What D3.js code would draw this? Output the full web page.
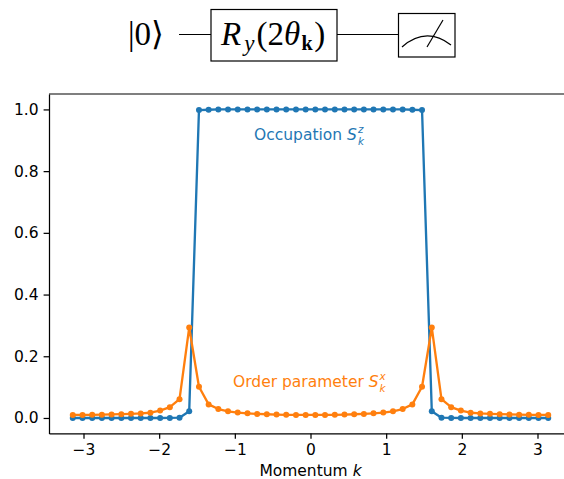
<!DOCTYPE html>
<html>
<head>
<meta charset="utf-8">
<script src="https://cdn.jsdelivr.net/npm/d3@7"></script>
<style>
  html, body { margin: 0; padding: 0; background: #fff; overflow: hidden; }
  svg { display: block; }
  text { font-family: "DejaVu Sans", sans-serif; }
  .math { font-family: "Liberation Serif", serif; fill: #000; }
</style>
</head>
<body>
<div id="chart"></div>
<script>
// momentum grid
const momentum = [
  -3.142, -3.013, -2.885, -2.757, -2.629, -2.500, -2.372, -2.244, -2.116, -1.987,
  -1.859, -1.731, -1.603, -1.474, -1.346, -1.218, -1.090, -0.962, -0.833, -0.705,
  -0.577, -0.449, -0.321, -0.192, -0.064, 0.064, 0.192, 0.321, 0.449, 0.577,
  0.705, 0.833, 0.962, 1.090, 1.218, 1.346, 1.474, 1.603, 1.731, 1.859,
  1.987, 2.116, 2.244, 2.372, 2.500, 2.629, 2.757, 2.885, 3.013, 3.142
];
const occupation = [
  0, 0, 0, 0, 0, 0, 0, 0, 0, 0,
  0.0003, 0.001, 0.022, 0.998, 0.999, 1, 1, 1, 1, 1,
  1, 1, 1, 1, 1, 1, 1, 1, 1, 1,
  1, 1, 1, 1, 1, 0.999, 0.998, 0.022, 0.001, 0.0003,
  0, 0, 0, 0, 0, 0, 0, 0, 0, 0
];
const orderParam = [
  0.0098, 0.0100, 0.0103, 0.0108, 0.0114, 0.0122, 0.0133, 0.0148, 0.0170, 0.0240,
  0.0350, 0.0610, 0.293, 0.101, 0.044, 0.029, 0.0215, 0.0175, 0.0150, 0.0132,
  0.0120, 0.0110, 0.0103, 0.0099, 0.0098, 0.0098, 0.0099, 0.0103, 0.0110, 0.0120,
  0.0132, 0.0150, 0.0175, 0.0215, 0.029, 0.044, 0.101, 0.293, 0.0610, 0.0350,
  0.0240, 0.0170, 0.0148, 0.0133, 0.0122, 0.0114, 0.0108, 0.0103, 0.0100, 0.0098
];
const xTicks = [-3, -2, -1, 0, 1, 2, 3];
const yTicks = [0, 0.2, 0.4, 0.6, 0.8, 1];

const blue = "#1f77b4", orange = "#ff7f0e";
const width = 564, height = 479;
const margin = { top: 94, right: -8, bottom: 45.6, left: 49 };
const fontSize = "15.5px", smallSize = "10.4px";

const svg = d3.select("#chart").append("svg")
  .attr("width", width)
  .attr("height", height);

const x = d3.scaleLinear().domain([-3.456, 3.456]).range([margin.left, width - margin.right]);
const y = d3.scaleLinear().domain([-0.05, 1.05]).range([height - margin.bottom, margin.top]);

const line = d3.line().x(d => x(d[0])).y(d => y(d[1]));

function addSeries(values, color) {
  const pts = momentum.map((k, i) => [k, values[i]]);
  svg.append("path")
    .attr("d", line(pts))
    .attr("fill", "none")
    .attr("stroke", color)
    .attr("stroke-width", 2.33)
    .attr("stroke-linejoin", "round");
  svg.append("g").selectAll("circle")
    .data(pts)
    .enter()
    .append("circle")
    .attr("cx", d => x(d[0]))
    .attr("cy", d => y(d[1]))
    .attr("r", 3)
    .attr("fill", color);
}
addSeries(occupation, blue);
addSeries(orderParam, orange);

// axes
const fmtMinus = d => String(d).replace("-", "\u2212");
const xAxis = svg.append("g")
  .attr("transform", `translate(0,${y(-0.05)})`)
  .call(d3.axisBottom(x).tickValues(xTicks).tickFormat(fmtMinus).tickSizeInner(5.4).tickSizeOuter(0).tickPadding(5));
const yAxis = svg.append("g")
  .attr("transform", `translate(${margin.left},0)`)
  .call(d3.axisLeft(y).tickValues(yTicks).tickFormat(d3.format(".1f")).tickSizeInner(5.4).tickSizeOuter(0).tickPadding(5));
[xAxis, yAxis].forEach(a => {
  a.attr("font-family", null).attr("font-size", null);
  a.selectAll("text").attr("fill", "#000").style("font-size", fontSize);
  a.selectAll("line").attr("stroke", "#000").attr("stroke-width", 1.24);
  a.select(".domain").attr("stroke", "#000").attr("stroke-width", 1.24);
});
svg.append("path")
  .attr("d", `M${margin.left},${y(1.05)}H${width}`)
  .attr("stroke", "#000").attr("stroke-width", 1.24).attr("fill", "none");

// labels with sub- and superscripts, placed after the measured text
function mathLabel(px, py, text, sym, sup, sub, color) {
  const t = svg.append("text").attr("x", px).attr("y", py)
    .attr("fill", color).style("font-size", fontSize);
  t.append("tspan").text(text + " ");
  t.append("tspan").attr("font-style", "italic").text(sym);
  const end = t.node().getComputedTextLength();
  svg.append("text").attr("x", px + end + 1).attr("y", py - 7)
    .attr("fill", color).attr("font-style", "italic").style("font-size", smallSize).text(sup);
  svg.append("text").attr("x", px + end + 1).attr("y", py + 5)
    .attr("fill", color).attr("font-style", "italic").style("font-size", smallSize).text(sub);
}
mathLabel(254, 140, "Occupation", "S", "z", "k", blue);
mathLabel(233, 387, "Order parameter", "S", "x", "k", orange);

const xLabel = svg.append("text")
  .attr("x", x(0)).attr("y", 476)
  .attr("text-anchor", "middle")
  .attr("fill", "#000")
  .style("font-size", fontSize);
xLabel.append("tspan").text("Momentum ");
xLabel.append("tspan").attr("font-style", "italic").text("k");

// circuit diagram above the axes
const circuit = svg.append("g").attr("fill", "none").attr("stroke", "#000").attr("stroke-width", 1.2);
circuit.append("path").attr("d", "M179,34.5H211M337,34.5H398");
circuit.append("rect").attr("x", 211).attr("y", 9.5).attr("width", 126).attr("height", 51.5);
circuit.append("rect").attr("x", 398.5).attr("y", 13.5).attr("width", 56.5).attr("height", 43.5);
circuit.append("path").attr("d", "M402,47Q426,26 451,45");
circuit.append("path").attr("d", "M427,47L443,20");

svg.append("text").attr("class", "math").attr("x", 128).attr("y", 45)
  .style("font-size", "33px").text("|0\u27E9");
const gate = svg.append("text").attr("class", "math").attr("x", 221).attr("y", 45)
  .style("font-size", "33px");
gate.append("tspan").attr("font-style", "italic").text("R");
gate.append("tspan").attr("font-style", "italic").attr("dy", 6).attr("dx", 3).style("font-size", "23px").text("y");
gate.append("tspan").attr("dy", -6).attr("dx", 2).text("(2");
gate.append("tspan").attr("font-style", "italic").text("\u03B8");
gate.append("tspan").attr("font-weight", "bold").attr("dy", 5).attr("dx", 1.5).style("font-size", "20px").text("k");
gate.append("tspan").attr("dy", -5).attr("dx", 1.5).text(")");
</script>
</body>
</html>
